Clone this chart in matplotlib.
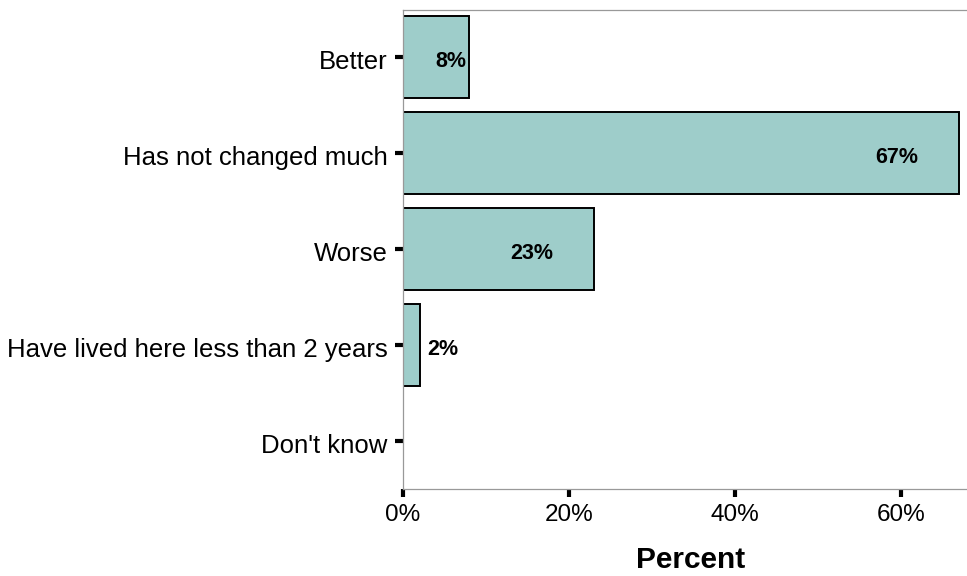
import matplotlib
matplotlib.use('Agg')
import matplotlib.pyplot as plt
from matplotlib.transforms import ScaledTranslation

categories = ["Better", "Has not changed much", "Worse",
              "Have lived here less than 2 years", "Don't know"]
percents = [8, 67, 23, 2, 0]

plt.rcParams['font.family'] = ['Liberation Sans', 'DejaVu Sans']

fig = plt.figure(figsize=(9.67, 5.76), dpi=100)
ax = fig.add_axes([0.4168, 0.151, 0.5832, 0.8325])

pos = list(range(len(categories)))
bars = ax.barh(pos, percents, height=0.855, color='#9ecdca',
               edgecolor='black', linewidth=1.4)
for b, v in zip(bars, percents):
    if v == 0:
        b.set_visible(False)

ax.set_yticks(pos)
ax.set_yticklabels(categories, fontsize=18.5)
ax.set_ylim(4.505, -0.49)
ax.set_xlim(0, 68)
ax.set_xticks([0, 20, 40, 60])
ax.set_xticklabels(['0%', '20%', '40%', '60%'], fontsize=17.5)
ax.tick_params(axis='both', length=6, width=3, color='black', pad=5)

# labels sit a little below the tick in the original
shift = ScaledTranslation(0, -3 / 100, fig.dpi_scale_trans)
for lab in ax.get_yticklabels():
    lab.set_transform(lab.get_transform() + shift)

for s in ['left', 'bottom', 'top']:
    ax.spines[s].set_color('#999999')
    ax.spines[s].set_linewidth(0.9)
ax.spines['right'].set_visible(False)

# value labels
for p, v in zip(pos, percents):
    if v == 0:
        continue
    if v > 15:
        x, ha = v - 7.5, 'center'
    elif v > 5:
        x, ha = v - 0.4, 'right'
    else:
        x, ha = v + 0.9, 'left'
    ax.annotate(f"{v}%", (x, p), xytext=(0, -3.5), textcoords='offset points',
                ha=ha, va='center', fontsize=15.5, fontweight='bold')

ax.set_xlabel('Percent', fontsize=21.5, fontweight='bold')
ax.xaxis.set_label_coords(0.51, -0.118)

fig.savefig('out.png', dpi=100)
